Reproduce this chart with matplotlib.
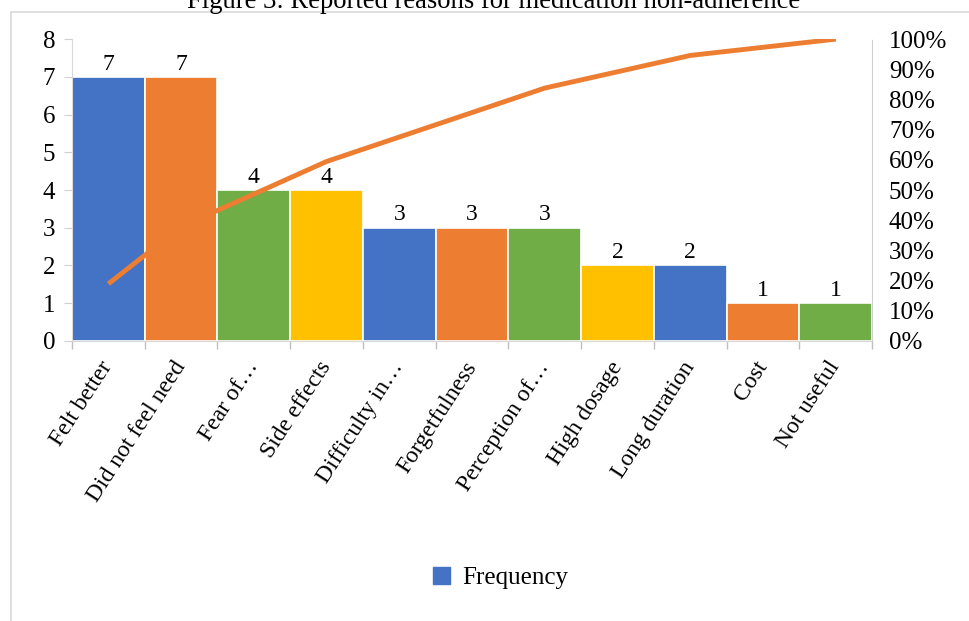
import matplotlib
matplotlib.use("Agg")
import matplotlib.pyplot as plt
from matplotlib.patches import Rectangle, Patch
import numpy as np

# data
reasons = ["Felt better", "Did not feel need", "Fear of\u2026", "Side effects", "Difficulty in\u2026",
           "Forgetfulness", "Perception of\u2026", "High dosage", "Long duration", "Cost", "Not useful"]
frequency = [7, 7, 4, 4, 3, 3, 3, 2, 2, 1, 1]
bar_colors = ["#4472C4", "#ED7D31", "#70AD47", "#FFC000", "#4472C4", "#ED7D31",
              "#70AD47", "#FFC000", "#4472C4", "#ED7D31", "#70AD47"]

cum_pct = np.cumsum(frequency) / sum(frequency) * 100

plt.rcParams['font.family'] = ['Liberation Serif', 'DejaVu Serif']
plt.rcParams['font.size'] = 17

fig = plt.figure(figsize=(9.7, 6.21), dpi=100)
ax = fig.add_axes([0.0742, 0.451, 0.825, 0.486])

# chart border (outer frame partly off the canvas)
fig.patches.append(Rectangle((11/970, -0.1), 1.1, 1 - 12/621 + 0.1, transform=fig.transFigure,
                             fill=False, edgecolor="#D9D9D9", linewidth=1.2))

# title sits mostly above the top edge, as in the source
fig.text(494/970, 1 - 8/621, "Figure 3: Reported reasons for medication non-adherence",
         ha="center", va="baseline", fontsize=19.2)

x = np.arange(len(reasons))
ax.bar(x, frequency, width=1.0, color=bar_colors, edgecolor="white", linewidth=1.2, zorder=2)
for xi, v in zip(x, frequency):
    ax.text(xi, v + 0.06, str(v), ha="center", va="bottom", fontsize=17)

ax.set_xlim(-0.5, len(reasons) - 0.5)
ax.set_ylim(0, 8)
ax.set_yticks(range(0, 9))
ax.set_xticks(x)
ax.set_xticklabels(reasons, rotation=57, ha="right", va="center", rotation_mode="anchor",
                   fontsize=17)
ax.tick_params(axis="x", length=0, pad=16)
ax.set_xticks(np.arange(-0.5, len(reasons)), minor=True)
ax.tick_params(axis="x", which="minor", length=6, color="#BFBFBF", width=1)
ax.tick_params(axis="y", length=6, color="#D0D0D0", pad=6, labelsize=18)
for s in ["top", "right"]:
    ax.spines[s].set_visible(False)
ax.spines["left"].set_color("#D9D9D9")
ax.spines["bottom"].set_color("#D9D9D9")

ax2 = ax.twinx()
ax2.plot(x, cum_pct, color="#ED7D31", linewidth=3.5, solid_capstyle="butt", zorder=3)
ax2.set_ylim(0, 100)
ax2.set_yticks(range(0, 101, 10))
ax2.set_yticklabels([f"{t}%" for t in range(0, 101, 10)])
ax2.tick_params(axis="y", length=0, pad=12, labelsize=18)
for s in ["top", "left", "bottom"]:
    ax2.spines[s].set_visible(False)
ax2.spines["right"].set_color("#D0D0D0")
ax2.spines["right"].set_linestyle((0, (1, 1)))

fig.legend(handles=[Patch(color="#4472C4", label="Frequency")], loc="center",
           bbox_to_anchor=(0.516, 1 - 578/621), frameon=False, fontsize=18,
           handlelength=0.7, handleheight=0.7, handletextpad=0.5)

fig.savefig("out.png", dpi=100)
